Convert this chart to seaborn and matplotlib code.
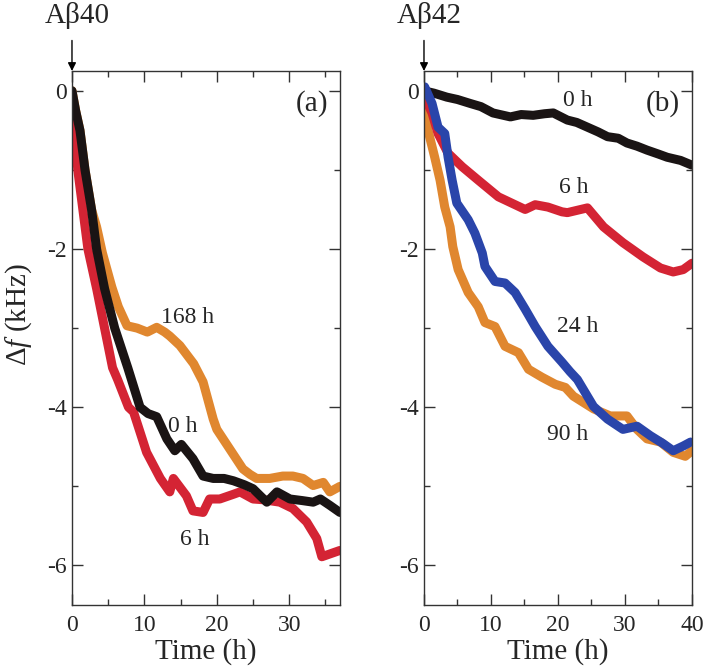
import seaborn as sns
import matplotlib.pyplot as plt
import pandas as pd
from matplotlib.ticker import MultipleLocator, FormatStrFormatter

# ---- panel (a): Abeta40 ----
a_0h_t = [0, 0.5, 1.1, 1.8, 2.7, 3.4, 4.5, 5.9, 7.7, 9.4, 10.5, 11.7, 13.1, 14.2, 15.1,
          16.7, 18.1, 19.5, 21.0, 22.3, 23.8, 25.0, 26.0, 26.9, 28.3, 30.1, 31.8, 33.3,
          34.3, 35.6, 37.0]
a_0h_f = [0, -0.25, -0.5, -1.0, -1.5, -2.0, -2.5, -3.0, -3.5, -4.0, -4.08, -4.12, -4.4,
          -4.55, -4.47, -4.65, -4.87, -4.9, -4.9, -4.93, -4.98, -5.03, -5.12, -5.2, -5.07,
          -5.16, -5.18, -5.2, -5.16, -5.24, -5.33]

a_6h_t = [0, 0.4, 0.8, 1.5, 2.2, 3.4, 4.5, 5.6, 6.3, 7.8, 8.5, 10.3, 12.2, 13.5, 14.0,
          15.8, 16.7, 18.1, 19.0, 20.4, 22.3, 23.2, 25.0, 26.5, 28.7, 30.5, 32.4, 33.8,
          34.5, 37.0]
a_6h_f = [-0.1, -0.5, -1.0, -1.5, -2.0, -2.5, -3.0, -3.5, -3.65, -4.0, -4.06, -4.57, -4.9,
          -5.07, -4.9, -5.12, -5.31, -5.33, -5.16, -5.16, -5.1, -5.07, -5.16, -5.17, -5.2,
          -5.28, -5.45, -5.66, -5.89, -5.81]

a_168h_t = [0, 0.5, 1.1, 1.8, 2.7, 3.4, 4.2, 5.5, 6.4, 7.6, 9.0, 10.4, 11.7, 12.8, 13.5,
            14.9, 16.8, 18.1, 19.5, 20.0, 21.8, 23.6, 24.6, 25.5, 27.3, 29.1, 30.5, 31.9,
            33.3, 34.7, 35.6, 37.0]
a_168h_f = [0, -0.25, -0.5, -1.0, -1.5, -1.72, -2.05, -2.48, -2.73, -2.97, -3.0, -3.05,
            -2.99, -3.05, -3.1, -3.22, -3.45, -3.68, -4.15, -4.28, -4.53, -4.78, -4.85,
            -4.9, -4.9, -4.87, -4.87, -4.9, -4.99, -4.95, -5.07, -5.0]

# ---- panel (b): Abeta42 ----
b_0h_t = [0, 1.5, 3.4, 5.0, 6.9, 8.5, 10.3, 12.9, 14.5, 16.3, 18.0, 19.3, 21.4, 22.8,
          24.4, 26.0, 27.4, 29.0, 30.3, 31.8, 33.3, 35.0, 36.3, 38.3, 40.0]
b_0h_f = [0, -0.03, -0.08, -0.11, -0.16, -0.2, -0.28, -0.33, -0.3, -0.31, -0.29, -0.28,
          -0.37, -0.4, -0.46, -0.52, -0.58, -0.6, -0.66, -0.7, -0.75, -0.8, -0.84, -0.88,
          -0.94]

b_6h_t = [0, 0.1, 1.2, 2.1, 3.6, 5.7, 8.1, 11.1, 13.6, 15.1, 16.6, 18.5, 20.6, 21.4,
          24.4, 26.8, 29.7, 32.7, 35.3, 37.2, 38.7, 40.0]
b_6h_f = [0, -0.08, -0.28, -0.54, -0.79, -0.96, -1.13, -1.34, -1.44, -1.5, -1.44, -1.47,
          -1.53, -1.54, -1.48, -1.72, -1.92, -2.1, -2.24, -2.29, -2.26, -2.18]

b_24h_t = [0, 0.1, 1.2, 2.1, 3.1, 3.6, 4.2, 4.9, 6.6, 7.6, 8.7, 9.1, 10.6, 12.1, 13.6,
           15.1, 16.6, 18.5, 20.6, 21.8, 22.9, 25.3, 27.4, 29.7, 31.8, 33.8, 35.7, 37.2,
           38.7, 39.8]
b_24h_f = [0, 0.05, -0.16, -0.46, -0.54, -0.84, -1.13, -1.42, -1.63, -1.8, -2.05, -2.22,
           -2.41, -2.43, -2.55, -2.76, -2.98, -3.23, -3.43, -3.55, -3.65, -3.99, -4.15,
           -4.28, -4.24, -4.36, -4.46, -4.55, -4.49, -4.44]

b_90h_t = [0, 0.6, 1.6, 2.4, 3.1, 3.9, 4.3, 5.1, 6.6, 8.1, 9.1, 10.6, 12.1, 14.1, 15.6,
           17.6, 19.6, 21.1, 22.3, 25.3, 27.8, 30.3, 31.8, 33.3, 35.3, 37.2, 39.0, 40.0]
b_90h_f = [-0.03, -0.5, -0.84, -1.13, -1.47, -1.72, -1.97, -2.26, -2.55, -2.73, -2.93,
           -2.98, -3.23, -3.31, -3.52, -3.62, -3.71, -3.75, -3.86, -4.02, -4.11, -4.11,
           -4.28, -4.4, -4.44, -4.57, -4.62, -4.55]

orange = "#E0872F"
red = "#D42434"
blue = "#2A45AA"
black = "#1a1414"

sns.set_style("ticks")
plt.rcParams["font.family"] = ["Liberation Serif", "DejaVu Serif"]
plt.rcParams["mathtext.fontset"] = "custom"
plt.rcParams["mathtext.rm"] = "Liberation Serif"
plt.rcParams["mathtext.it"] = "Liberation Serif:italic"
plt.rcParams["axes.unicode_minus"] = False

fig = plt.figure(figsize=(7.05, 6.7), dpi=100)
ax1 = fig.add_axes([0.1021, 0.0970, 0.3801, 0.7970])
ax2 = fig.add_axes([0.6014, 0.0970, 0.3801, 0.7970])

lw = 6.5
def draw(ax, t, f, c):
    df = pd.DataFrame({"t": t, "f": f})
    sns.lineplot(data=df, x="t", y="f", ax=ax, color=c, lw=lw, sort=False,
                 estimator=None, solid_capstyle="round", solid_joinstyle="round")

draw(ax1, a_168h_t, a_168h_f, orange)
draw(ax1, a_6h_t, a_6h_f, red)
draw(ax1, a_0h_t, a_0h_f, black)

draw(ax2, b_0h_t, b_0h_f, black)
draw(ax2, b_90h_t, b_90h_f, orange)
draw(ax2, b_6h_t, b_6h_f, red)
draw(ax2, b_24h_t, b_24h_f, blue)

for ax, xmax, name, tag in [(ax1, 37, "Aβ40", "(a)"), (ax2, 40, "Aβ42", "(b)")]:
    ax.set_xlim(0, xmax)
    ax.set_ylim(-6.5, 0.25)
    ax.xaxis.set_major_locator(MultipleLocator(10))
    ax.xaxis.set_minor_locator(MultipleLocator(5))
    ax.yaxis.set_major_locator(MultipleLocator(2))
    ax.yaxis.set_minor_locator(MultipleLocator(1))
    ax.yaxis.set_major_formatter(FormatStrFormatter("%d"))
    ax.tick_params(which="both", direction="in", top=True, right=True,
                   color="#333333", width=1.0, labelsize=17)
    ax.tick_params(which="major", length=8)
    ax.tick_params(which="minor", length=4.5)
    ax.tick_params(axis="x", pad=7)
    ax.tick_params(axis="y", pad=4)
    for s in ax.spines.values():
        s.set_color("#333333")
        s.set_linewidth(1.0)
        s.set_visible(True)
    ax.set_xlabel("Time (h)", fontsize=21, labelpad=2)
    ax.set_ylabel("")
    ax.text(0.955, 0.94, tag, transform=ax.transAxes, fontsize=21, ha="right", va="center")
    ax.annotate("", xy=(0, 1), xycoords="axes fraction", xytext=(0, 22),
                textcoords="offset points",
                arrowprops=dict(arrowstyle="-|>", color="black", lw=1, mutation_scale=12,
                                shrinkA=0, shrinkB=0))
    ax.annotate(name, xy=(0, 1), xycoords="axes fraction", xytext=(4, 40),
                textcoords="offset points", ha="center", va="center", fontsize=21)

ax1.text(16, -2.87, "168 h", fontsize=17, ha="center", va="center")
ax1.text(15.3, -4.24, "0 h", fontsize=17, ha="center", va="center")
ax1.text(16.9, -5.67, "6 h", fontsize=17, ha="center", va="center")

ax2.text(22.9, -0.12, "0 h", fontsize=17, ha="center", va="center")
ax2.text(22.3, -1.22, "6 h", fontsize=17, ha="center", va="center")
ax2.text(22.9, -2.98, "24 h", fontsize=17, ha="center", va="center")
ax2.text(21.5, -4.34, "90 h", fontsize=17, ha="center", va="center")

fig.text(19 / 705, 1 - 315 / 670, "Δ$f$ (kHz)", rotation=90, fontsize=21,
         ha="center", va="center")

fig.savefig("out.png", dpi=100)
